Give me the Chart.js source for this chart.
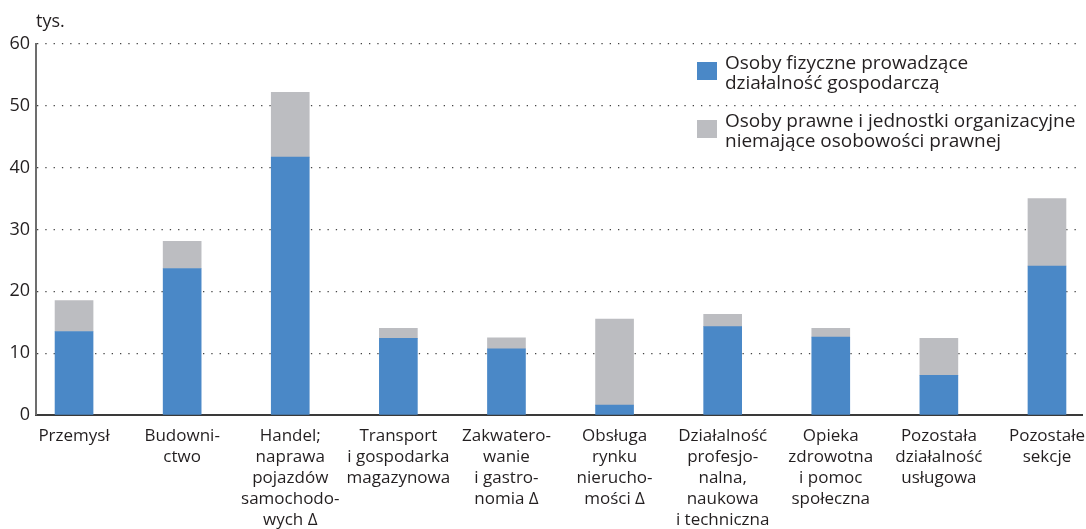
<!DOCTYPE html>
<html>
<head>
<meta charset="utf-8">
<script src="https://cdn.jsdelivr.net/npm/chart.js@4"></script>
<style>
  html, body { margin: 0; padding: 0; background: #fff; }
  #wrap { width: 1086px; height: 529px; position: relative; }
</style>
</head>
<body>
<div id="wrap"><canvas id="chart"></canvas></div>
<script>
// --- data (tys.) ---
const categories = [
  ["Przemysł"],
  ["Budowni-", "ctwo"],
  ["Handel;", "naprawa", "pojazdów", "samochodo-", "wych \u0394"],
  ["Transport", "i gospodarka", "magazynowa"],
  ["Zakwatero-", "wanie", "i gastro-", "nomia \u0394"],
  ["Obsługa", "rynku", "nierucho-", "mości \u0394"],
  ["Działalność", "profesjo-", "nalna,", "naukowa", "i techniczna"],
  ["Opieka", "zdrowotna", "i pomoc", "społeczna"],
  ["Pozostała", "działalność", "usługowa"],
  ["Pozostałe", "sekcje"]
];
const fizyczne = [13.5, 23.7, 41.7, 12.4, 10.7, 1.6, 14.3, 12.6, 6.4, 24.1];
const prawne   = [5.0, 4.4, 10.5, 1.6, 1.8, 13.9, 2.0, 1.4, 6.0, 10.9];
const yTicks = [0, 10, 20, 30, 40, 50, 60];
const legendLabels = [
  ["Osoby fizyczne prowadzące", "działalność gospodarczą"],
  ["Osoby prawne i jednostki organizacyjne", "niemające osobowości prawnej"]
];
const colors = ["#4a88c7", "#bcbdc1"];

const FONT = "'Open Sans', sans-serif";
const TEXT = "#231f20";

// legenda + "tys." rysowane ręcznie (wielowierszowe etykiety)
const extras = {
  id: "extras",
  afterDraw(chart) {
    const ctx = chart.ctx;
    ctx.save();
    ctx.fillStyle = TEXT;
    ctx.font = "18px " + FONT;
    ctx.textBaseline = "alphabetic";
    ctx.textAlign = "left";
    ctx.fillText("tys.", 36, 27);

    const boxX = 697, tops = [62, 120];
    legendLabels.forEach((lines, i) => {
      ctx.fillStyle = colors[i];
      ctx.fillRect(boxX, tops[i], 20, 18);
      ctx.fillStyle = TEXT;
      ctx.font = "19px " + FONT;
      lines.forEach((ln, j) => ctx.fillText(ln, 725, tops[i] + 7 + j * 20));
    });
    ctx.restore();
  }
};

const ctx = document.getElementById("chart");
new Chart(ctx, {
  type: "bar",
  data: {
    datasets: [
      {
        label: legendLabels[0].join(" "),
        data: fizyczne.map((v, i) => ({ x: i, y: v })),
        backgroundColor: colors[0],
        barThickness: 38
      },
      {
        label: legendLabels[1].join(" "),
        data: prawne.map((v, i) => ({ x: i, y: v })),
        backgroundColor: colors[1],
        barThickness: 38
      }
    ]
  },
  plugins: [extras],
  options: {
    responsive: true,
    maintainAspectRatio: false,
    animation: false,
    layout: { padding: { top: 44, right: 4, left: 0, bottom: 0 } },
    plugins: { legend: { display: false }, tooltip: { enabled: false } },
    scales: {
      x: {
        type: "linear",
        stacked: true,
        offset: false,
        min: -0.352,
        max: 9.324,
        afterBuildTicks: (axis) => { axis.ticks = categories.map((c, i) => ({ value: i })); },
        afterFit: (axis) => {
          axis.height = 114;
          axis.paddingLeft = 0;
          axis.paddingRight = 0;
        },
        grid: { display: false, drawTicks: false, offset: false },
        border: { display: true, color: "#3a3a3a", width: 2 },
        ticks: {
          autoSkip: false,
          maxRotation: 0,
          padding: 11,
          color: TEXT,
          font: { family: FONT, size: 17, lineHeight: 1.23 },
          callback: (v) => categories[v]
        }
      },
      y: {
        stacked: true,
        min: 0,
        max: 60,
        afterBuildTicks: (axis) => { axis.ticks = yTicks.map(v => ({ value: v })); },
        afterFit: (axis) => { axis.width = 36; },
        grid: {
          color: (c) => c.tick.value === 0 ? "rgba(0,0,0,0)" : "#444",
          lineWidth: 1.3,
          drawTicks: false
        },
        border: { display: true, color: "#6d6d6d", width: 2, dash: [1.3, 7] },
        ticks: {
          padding: 6,
          color: TEXT,
          font: { family: FONT, size: 18 }
        }
      }
    }
  }
});
</script>
</body>
</html>
